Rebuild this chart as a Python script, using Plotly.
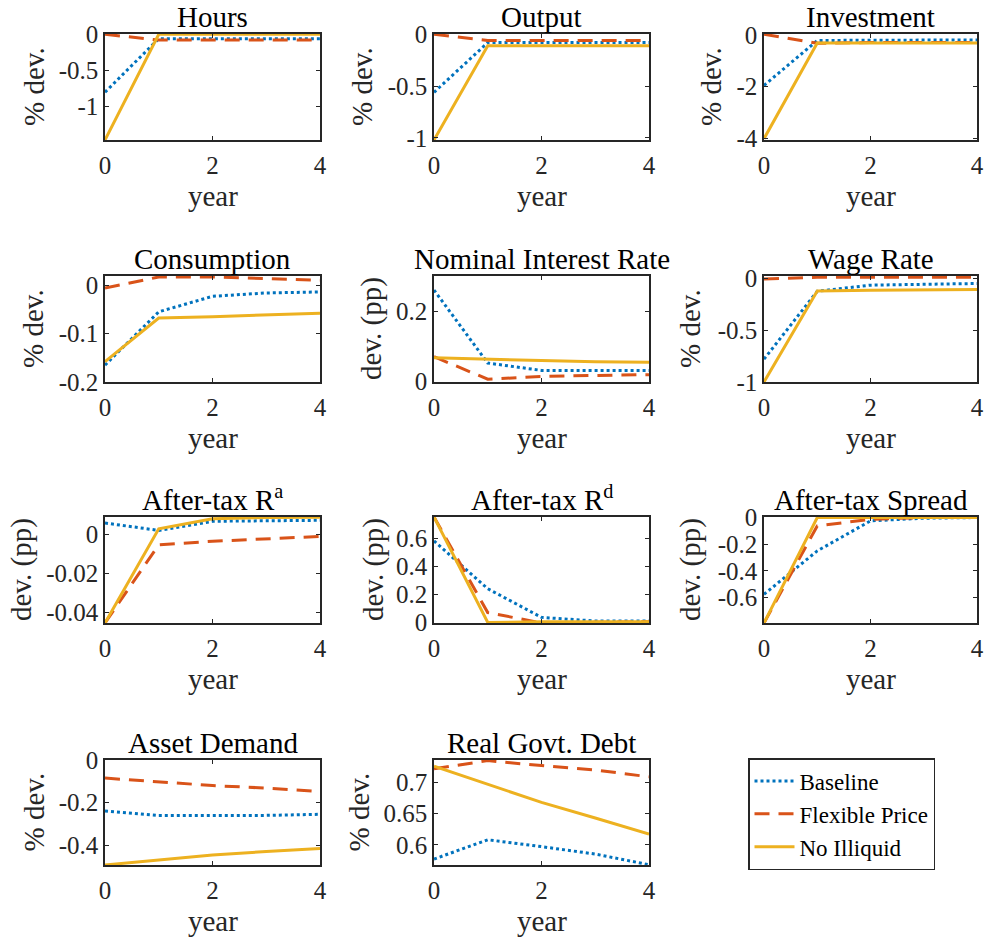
import plotly.graph_objects as go

years = [0, 1, 2, 3, 4]
series_names = ["Baseline", "Flexible Price", "No Illiquid"]

titles = ["Hours", "Output", "Investment",
          "Consumption", "Nominal Interest Rate", "Wage Rate",
          "After-tax R<sup>a</sup>", "After-tax R<sup>d</sup>", "After-tax Spread",
          "Asset Demand", "Real Govt. Debt"]
ylabels = ["% dev.", "% dev.", "% dev.",
           "% dev.", "dev. (pp)", "% dev.",
           "dev. (pp)", "dev. (pp)", "dev. (pp)",
           "% dev.", "% dev."]

# Baseline
hours_base = [-0.80, -0.06, -0.06, -0.06, -0.06]
output_base = [-0.56, -0.08, -0.08, -0.08, -0.08]
invest_base = [-1.95, -0.22, -0.21, -0.20, -0.20]
cons_base = [-0.165, -0.055, -0.023, -0.016, -0.014]
nomrate_base = [0.26, 0.052, 0.031, 0.031, 0.031]
wage_base = [-0.78, -0.127, -0.068, -0.058, -0.052]
ra_base = [0.006, 0.0022, 0.0069, 0.0072, 0.0074]
rd_base = [0.58, 0.24, 0.036, 0.01, 0.01]
spread_base = [-0.575, -0.25, -0.025, -0.005, 0.0]
asset_base = [-0.239, -0.261, -0.261, -0.26, -0.255]
debt_base = [0.577, 0.608, 0.597, 0.585, 0.568]

# Flexible Price
hours_flex = [0.0, -0.08, -0.08, -0.08, -0.08]
output_flex = [0.0, -0.06, -0.06, -0.06, -0.06]
invest_flex = [0.02, -0.33, -0.30, -0.30, -0.30]
cons_flex = [-0.006, 0.017, 0.017, 0.014, 0.010]
nomrate_flex = [0.07, 0.006, 0.014, 0.016, 0.019]
wage_flex = [-0.01, 0.007, 0.007, 0.007, 0.007]
ra_flex = [-0.0455, -0.0052, -0.0034, -0.0022, -0.0009]
rd_flex = [0.75, 0.07, -0.003, 0.0, 0.005]
spread_flex = [-0.79, -0.063, -0.013, 0.0, 0.0]
asset_flex = [-0.085, -0.101, -0.12, -0.132, -0.148]
debt_flex = [0.722, 0.735, 0.727, 0.72, 0.709]

# No Illiquid
hours_noil = [-1.46, 0.0, 0.0, 0.0, 0.0]
output_noil = [-1.02, -0.11, -0.11, -0.11, -0.11]
invest_noil = [-4.0, -0.32, -0.32, -0.32, -0.32]
cons_noil = [-0.158, -0.068, -0.065, -0.061, -0.058]
nomrate_noil = [0.067, 0.062, 0.059, 0.056, 0.054]
wage_noil = [-1.0, -0.124, -0.118, -0.114, -0.11]
ra_noil = [-0.0455, 0.003, 0.0082, 0.0088, 0.009]
rd_noil = [0.75, 0.0, 0.005, 0.005, 0.005]
spread_noil = [-0.79, 0.0, 0.0, 0.0, 0.0]
asset_noil = [-0.493, -0.468, -0.446, -0.43, -0.415]
debt_noil = [0.726, 0.697, 0.668, 0.643, 0.617]

baseline = [hours_base, output_base, invest_base, cons_base, nomrate_base, wage_base,
            ra_base, rd_base, spread_base, asset_base, debt_base]
flexible = [hours_flex, output_flex, invest_flex, cons_flex, nomrate_flex, wage_flex,
            ra_flex, rd_flex, spread_flex, asset_flex, debt_flex]
noilliquid = [hours_noil, output_noil, invest_noil, cons_noil, nomrate_noil, wage_noil,
              ra_noil, rd_noil, spread_noil, asset_noil, debt_noil]

x_tickvals = [0, 2, 4]
x_ticktext = ["0", "2", "4"]
y_tickvals = [[-1, -0.5, 0], [-1, -0.5, 0], [-4, -2, 0],
              [-0.2, -0.1, 0], [0, 0.2], [-1, -0.5, 0],
              [-0.04, -0.02, 0], [0, 0.2, 0.4, 0.6], [-0.6, -0.4, -0.2, 0],
              [-0.4, -0.2, 0], [0.6, 0.65, 0.7]]
y_ticktext = [["-1", "-0.5", "0"], ["-1", "-0.5", "0"], ["-4", "-2", "0"],
              ["-0.2", "-0.1", "0"], ["0", "0.2"], ["-1", "-0.5", "0"],
              ["-0.04", "-0.02", "0"], ["0", "0.2", "0.4", "0.6"], ["-0.6", "-0.4", "-0.2", "0"],
              ["-0.4", "-0.2", "0"], ["0.6", "0.65", "0.7"]]
y_ranges = [[-1.46, 0.004], [-1.02, 0.003], [-4.05, 0.03],
            [-0.2, 0.019], [-0.002, 0.3], [-1.0, 0.02],
            [-0.0455, 0.0091], [-0.004, 0.75], [-0.79, 0.004],
            [-0.493, 0.0], [0.5675, 0.736]]

# ---- layout constants (page pixels; body margin is removed below) ----
W, H = 984, 939
col_left = [105, 434, 764]
col_right = [320, 649, 977]
row_top = [34, 276, 517, 760]
row_bot = [140, 382, 623, 865]
ylabel_x = [34, 362, 711, 33, 371, 690, 21, 373, 690, 33, 358]


def px(v):
    return v / W


def py(v):
    return 1 - v / H


FONT = "Liberation Serif, Times New Roman, serif"
AX = "#262626"
colors = ["#0072BD", "#D95319", "#EDB120"]
dashes = ["3px,3px", "15px,9px", "solid"]
TICK_FS = 25
TITLE_FS = 29

fig = go.Figure()
annotations = []
layout = {}

for i in range(11):
    r, c = divmod(i, 3)
    n = i + 1
    xa = "x" if n == 1 else f"x{n}"
    ya = "y" if n == 1 else f"y{n}"
    for s, data in enumerate([baseline[i], flexible[i], noilliquid[i]]):
        fig.add_trace(go.Scatter(
            x=years, y=data, mode="lines", xaxis=xa, yaxis=ya,
            name=series_names[s], showlegend=(i == 0), legendgroup=series_names[s],
            line=dict(color=colors[s], width=3, dash=dashes[s]),
        ))
    x0, x1 = px(col_left[c]), px(col_right[c])
    y0, y1 = py(row_bot[r]), py(row_top[r])
    common = dict(showline=True, linecolor=AX, linewidth=1.5, mirror="ticks",
                  ticks="inside", ticklen=4, tickcolor=AX, showgrid=False,
                  zeroline=False, automargin=False,
                  tickfont=dict(family=FONT, size=TICK_FS, color=AX))
    layout[f"xaxis{n}"] = dict(domain=[x0, x1], anchor=ya, range=[0, 4],
                               tickvals=x_tickvals, ticktext=x_ticktext,
                               ticklabelstandoff=2, **common)
    layout[f"yaxis{n}"] = dict(domain=[y0, y1], anchor=xa, range=y_ranges[i],
                               tickvals=y_tickvals[i], ticktext=y_ticktext[i], **common)
    xc = (x0 + x1) / 2
    annotations.append(dict(text=titles[i], x=xc, y=y1, xref="paper", yref="paper",
                            xanchor="center", yanchor="bottom", yshift=-1, showarrow=False,
                            font=dict(family=FONT, size=TITLE_FS, color="black")))
    annotations.append(dict(text="year", x=xc, y=y0, xref="paper", yref="paper",
                            xanchor="center", yanchor="middle", yshift=-56, showarrow=False,
                            font=dict(family=FONT, size=TITLE_FS, color=AX)))
    annotations.append(dict(text=ylabels[i], x=px(ylabel_x[i]), y=(y0 + y1) / 2,
                            xref="paper", yref="paper", xanchor="center", yanchor="middle",
                            textangle=-90, showarrow=False,
                            font=dict(family=FONT, size=TITLE_FS, color=AX)))

fig.update_layout(
    width=W, height=H, margin=dict(l=0, r=0, t=0, b=0, autoexpand=False),
    paper_bgcolor="white", plot_bgcolor="white",
    annotations=annotations,
    legend=dict(x=px(748), y=py(758), xanchor="left", yanchor="top",
                bordercolor=AX, borderwidth=1.5, bgcolor="white",
                font=dict(family=FONT, size=23, color="black"),
                tracegroupgap=0, itemwidth=40),
    **layout,
)

fig.write_html("out.html",
               config={"displayModeBar": False},
               post_script="document.body.style.margin='0px';document.body.style.overflow='hidden';")
